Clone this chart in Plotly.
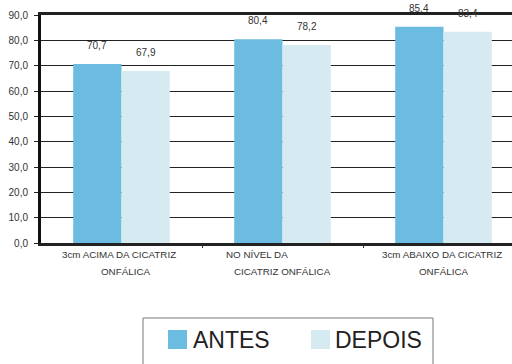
import plotly.graph_objects as go

# ---- data ----
categories = ["ACIMA", "NIVEL", "ABAIXO"]
label_line1 = ["3cm ACIMA DA CICATRIZ", "NO NÍVEL DA", "3cm ABAIXO DA CICATRIZ"]
label_line2 = ["ONFÁLICA", "CICATRIZ ONFÁLICA", "ONFÁLICA"]
antes = [70.7, 80.4, 85.4]
depois = [67.9, 78.2, 83.4]
series_names = ["ANTES", "DEPOIS"]
colors = ["#6cbce1", "#d6eaf1"]

W, H = 512, 364
L, R, T, B = 41, 0, 15, 121
pw, ph = W - L - R, H - T - B

def px(x):
    return (x - L) / pw

def py(y):
    return (H - B - y) / ph

FONT = "Liberation Sans, Arial, sans-serif"

fig = go.Figure()
for name, vals, col in zip(series_names, [antes, depois], colors):
    fig.add_trace(go.Bar(x=list(range(len(categories))), y=vals, name=name,
                         marker=dict(color=col, line=dict(width=0)),
                         showlegend=False))

annotations = []
# value labels
for k, vals in enumerate([antes, depois]):
    off = -0.15 if k == 0 else 0.15
    for i, v in enumerate(vals):
        annotations.append(dict(x=i + off, y=v, xref="x", yref="y",
                                text=f"{v:.1f}".replace(".", ","),
                                showarrow=False, yanchor="bottom", yshift=11,
                                font=dict(family=FONT, size=10, color="#333")))
# category labels
shift1 = [-3, -26, -2]
shift2 = [4, 0, 0]
for i in range(len(categories)):
    annotations.append(dict(x=i, y=py(262), xref="x", yref="paper",
                            text=label_line1[i], showarrow=False, xshift=shift1[i],
                            font=dict(family=FONT, size=9.8, color="#333")))
    annotations.append(dict(x=i, y=py(279), xref="x", yref="paper",
                            text=label_line2[i], showarrow=False, xshift=shift2[i],
                            font=dict(family=FONT, size=9.8, color="#333")))

# manual legend
shapes = [dict(type="rect", xref="paper", yref="paper",
               x0=px(143), x1=px(433), y0=py(372), y1=py(318),
               line=dict(color="#777", width=1), fillcolor="rgba(0,0,0,0)")]
leg_sq = [168, 311]
leg_tx = [192, 334]
for k in range(2):
    shapes.append(dict(type="rect", xref="paper", yref="paper",
                       x0=px(leg_sq[k]), x1=px(leg_sq[k] + 19),
                       y0=py(349), y1=py(330),
                       line=dict(width=0), fillcolor=colors[k]))
    annotations.append(dict(x=px(leg_tx[k] - 1), y=py(340), xref="paper", yref="paper",
                            text=series_names[k], showarrow=False,
                            xanchor="left", yanchor="middle",
                            font=dict(family=FONT, size=23, color="#222")))

fig.update_layout(
    width=W, height=H,
    margin=dict(l=L, r=R, t=T, b=B, pad=0),
    paper_bgcolor="white", plot_bgcolor="white",
    barmode="group", bargap=0.4, bargroupgap=0,
    separators=",.",
    annotations=annotations, shapes=shapes,
    showlegend=False,
    font=dict(family=FONT, size=10, color="#333"),
)
fig.update_xaxes(range=[-0.5, -0.5 + pw / 161.0], showticklabels=False,
                 showline=True, linecolor="#222", linewidth=2.5, mirror=True,
                 showgrid=False, zeroline=False,
                 tickvals=[0.5, 1.5], ticks="outside", ticklen=2, tickcolor="#333")
fig.update_yaxes(range=[0, 90], dtick=10, tickformat=".1f",
                 showline=True, linecolor="#111", linewidth=3,
                 showgrid=True, gridcolor="#222", gridwidth=1.2,
                 zeroline=False, ticks="outside", ticklen=4, tickcolor="#222",
                 ticklabelstandoff=4,
                 tickfont=dict(family=FONT, size=10, color="#333"))

fig.write_html("out.html")
